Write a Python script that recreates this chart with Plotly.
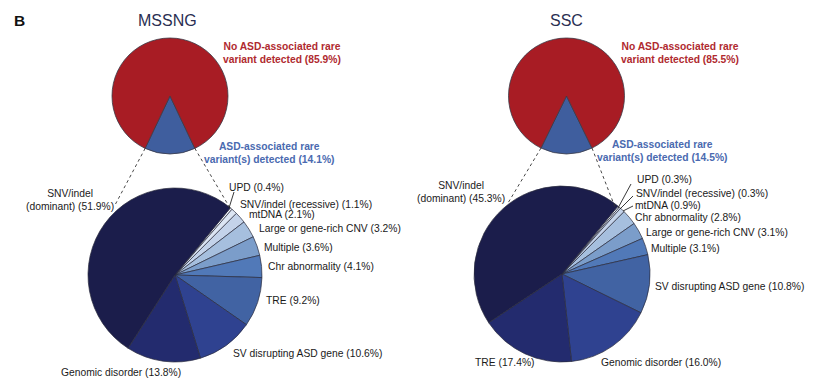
import math
import plotly.graph_objects as go

# page has an 8px body margin, so the figure is 810x372 and offset by 8px
OFF = 8
W, H = 818 - OFF, 380 - OFF

# ---------------- data ----------------
top_labels = ["ASD-associated rare variant(s) detected", "No ASD-associated rare variant detected"]
mssng_top = [14.1, 85.9]
ssc_top = [14.5, 85.5]

mssng_cats = ["UPD", "SNV/indel (recessive)", "mtDNA", "Large or gene-rich CNV", "Multiple",
              "Chr abnormality", "TRE", "SV disrupting ASD gene", "Genomic disorder",
              "SNV/indel (dominant)"]
mssng_vals = [0.4, 1.1, 2.1, 3.2, 3.6, 4.1, 9.2, 10.6, 13.8, 51.9]

ssc_cats = ["UPD", "SNV/indel (recessive)", "mtDNA", "Chr abnormality", "Large or gene-rich CNV",
            "Multiple", "SV disrupting ASD gene", "Genomic disorder", "TRE",
            "SNV/indel (dominant)"]
ssc_vals = [0.3, 0.3, 0.9, 2.8, 3.1, 3.1, 10.8, 16.0, 17.4, 45.3]

# ---------------- style ----------------
RED = "#A81C24"
BLUE = "#3F5E9E"
RED_TXT = "#B02A2F"
BLUE_TXT = "#4A6AB0"
shades = ["#EEF2F9", "#DCE5F3", "#C4D3EA", "#A6BFDE", "#7B9DCA",
          "#5179B8", "#4163A3", "#2F4290", "#232B6E", "#1B1D4B"]
FONT = "Liberation Sans, Arial, Helvetica, sans-serif"


def px(x):
    return (x - OFF) / W


def py(y):
    return 1 - (y - OFF) / H


def dom(cx, cy, r):
    return dict(x=[px(cx - r), px(cx + r)], y=[py(cy + r), py(cy - r)])


fig = go.Figure()

# pies: (center x, center y, radius) in window pixels
geo = {
    "mssng_top": (170, 96, 58),
    "mssng_bot": (175, 275, 87),
    "ssc_top": (566.5, 96, 58),
    "ssc_bot": (562, 274, 88),
}

for key, vals in (("mssng_top", mssng_top), ("ssc_top", ssc_top)):
    cx, cy, r = geo[key]
    fig.add_trace(go.Pie(
        values=vals, labels=top_labels, sort=False, direction="clockwise",
        rotation=180 - vals[0] * 1.8,
        marker=dict(colors=[BLUE, RED], line=dict(color="#3a3a46", width=0.8)),
        textinfo="none", hoverinfo="skip", domain=dom(cx, cy, r), showlegend=False))

for key, cats, vals in (("mssng_bot", mssng_cats, mssng_vals), ("ssc_bot", ssc_cats, ssc_vals)):
    cx, cy, r = geo[key]
    fig.add_trace(go.Pie(
        values=vals, labels=cats, sort=False, direction="clockwise",
        rotation=39.5,
        marker=dict(colors=shades, line=dict(color="#2b2d3e", width=0.7)),
        textinfo="none", hoverinfo="skip", domain=dom(cx, cy, r), showlegend=False))

shapes = []


def seg(x0, y0, x1, y1, dash="solid", color="#222", width=0.9):
    shapes.append(dict(type="line", xref="paper", yref="paper",
                       x0=px(x0), y0=py(y0), x1=px(x1), y1=py(y1),
                       line=dict(color=color, width=width, dash=dash)))


# dotted connector lines from blue wedge corners to the lower pies
for key, vals, ends in (("mssng_top", mssng_top, [(115, 205), (230, 208)]),
                        ("ssc_top", ssc_top, [(508, 203), (615, 207)])):
    cx, cy, r = geo[key]
    half = math.radians(vals[0] * 1.8)
    corners = [(cx - r * math.sin(half), cy + r * math.cos(half)),
               (cx + r * math.sin(half), cy + r * math.cos(half))]
    for (sx, sy), (ex, ey) in zip(corners, ends):
        seg(sx, sy, ex, ey, dash="dot", color="#333", width=0.9)

# leader lines for tiny slices
seg(234, 192, 229, 208)
seg(631, 184, 618, 208)
seg(633, 196, 620, 209)
seg(633, 206, 623, 211)

ann = []


def text(x, y, s, size=10.3, color="#1a1a1a", xanchor="left", bold=False, align="left"):
    if bold:
        s = "<b>" + s.replace("<br>", "</b><br><b>") + "</b>"
    ann.append(dict(x=px(x), y=py(y), xref="paper", yref="paper", text=s, showarrow=False,
                    xanchor=xanchor, yanchor="middle", align=align,
                    font=dict(family=FONT, size=size, color=color)))


def pct(v):
    return f"({v:.1f}%)"


text(12, 21, "B", size=15.5, bold=True, color="#111")
text(167, 21, "MSSNG", size=16, color="#2A2E52", xanchor="center", align="center")
text(566, 21, "SSC", size=16, color="#2A2E52", xanchor="center", align="center")

# MSSNG top labels
text(281.5, 52.5, "No ASD-associated rare<br>variant detected " + pct(mssng_top[1]),
     color=RED_TXT, xanchor="center", bold=True, align="center")
text(268.5, 153, "ASD-associated rare<br>variant(s) detected " + pct(mssng_top[0]),
     color=BLUE_TXT, xanchor="center", bold=True, align="center")
# SSC top labels
text(680, 53, "No ASD-associated rare<br>variant detected " + pct(ssc_top[1]),
     color=RED_TXT, xanchor="center", bold=True, align="center")
text(661.5, 151, "ASD-associated rare<br>variant(s) detected " + pct(ssc_top[0]),
     color=BLUE_TXT, xanchor="center", bold=True, align="center")

# MSSNG bottom labels
m = dict(zip(mssng_cats, mssng_vals))
text(227, 187, "UPD " + pct(m["UPD"]))
text(238, 204, "SNV/indel (recessive) " + pct(m["SNV/indel (recessive)"]))
text(247, 214.5, "mtDNA " + pct(m["mtDNA"]))
text(257, 228.5, "Large or gene-rich CNV " + pct(m["Large or gene-rich CNV"]))
text(262, 247, "Multiple " + pct(m["Multiple"]))
text(266, 266, "Chr abnormality " + pct(m["Chr abnormality"]))
text(264, 300, "TRE " + pct(m["TRE"]))
text(231, 353, "SV disrupting ASD gene " + pct(m["SV disrupting ASD gene"]))
text(59, 372, "Genomic disorder " + pct(m["Genomic disorder"]))
text(69.5, 200, "SNV/indel<br>(dominant) " + pct(m["SNV/indel (dominant)"]),
     xanchor="center", align="center")

# SSC bottom labels
s = dict(zip(ssc_cats, ssc_vals))
text(635, 179.5, "UPD " + pct(s["UPD"]))
text(634, 193, "SNV/indel (recessive) " + pct(s["SNV/indel (recessive)"]))
text(633, 205, "mtDNA " + pct(s["mtDNA"]))
text(633, 217.5, "Chr abnormality " + pct(s["Chr abnormality"]))
text(644, 232, "Large or gene-rich CNV " + pct(s["Large or gene-rich CNV"]))
text(649, 248, "Multiple " + pct(s["Multiple"]))
text(653, 286, "SV disrupting ASD gene " + pct(s["SV disrupting ASD gene"]))
text(599, 362, "Genomic disorder " + pct(s["Genomic disorder"]))
text(473, 362, "TRE " + pct(s["TRE"]))
text(461, 192, "SNV/indel<br>(dominant) " + pct(s["SNV/indel (dominant)"]),
     xanchor="center", align="center")

fig.update_layout(
    width=W, height=H, margin=dict(l=0, r=0, t=0, b=0),
    paper_bgcolor="white", plot_bgcolor="white",
    shapes=shapes, annotations=ann, showlegend=False,
)

fig.write_html("out.html")
